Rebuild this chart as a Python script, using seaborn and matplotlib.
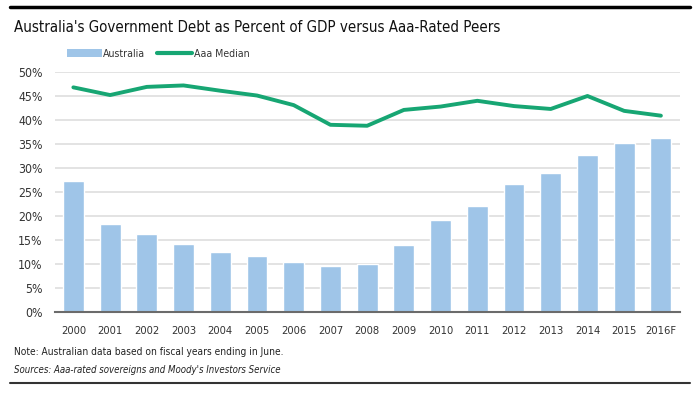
import matplotlib.pyplot as plt
import seaborn as sns
import pandas as pd
from matplotlib.lines import Line2D
from matplotlib.patches import Patch

years = ['2000', '2001', '2002', '2003', '2004', '2005', '2006', '2007', '2008',
         '2009', '2010', '2011', '2012', '2013', '2014', '2015', '2016F']
australia = [27.3, 18.3, 16.2, 14.2, 12.4, 11.7, 10.4, 9.6, 9.9,
             14.0, 19.1, 22.1, 26.6, 29.0, 32.7, 35.2, 36.2]
aaa_median = [46.8, 45.2, 46.9, 47.2, 46.1, 45.1, 43.1, 39.0, 38.8,
              42.1, 42.8, 44.0, 42.9, 42.3, 45.0, 41.9, 40.9]

df = pd.DataFrame({'Year': years, 'Australia': australia, 'Aaa Median': aaa_median})

sns.set_style('white')
plt.rcParams['font.family'] = ['DejaVu Sans']
plt.rcParams['font.stretch'] = 'condensed'

bar_color = '#9fc5e8'
line_color = '#17a673'

fig = plt.figure(figsize=(7, 3.94), dpi=100)
ax = fig.add_axes([55 / 700, 1 - 312 / 394, 625 / 700, 240 / 394])

sns.barplot(data=df, x='Year', y='Australia', color=bar_color, width=0.57,
            saturation=1, ax=ax, zorder=2)
sns.lineplot(data=df, x='Year', y='Aaa Median', color=line_color, linewidth=2.8,
             sort=False, ax=ax, zorder=3)

ax.set_ylim(0, 50)
ax.set_xlim(-0.5, len(years) - 0.48)
ax.set_yticks(range(0, 51, 5))
ax.set_yticklabels([f'{v}%' for v in range(0, 51, 5)])
ax.yaxis.grid(True, color='#dedede', linewidth=1.2, zorder=0)
ax.set_axisbelow(True)
ax.set_xlabel('')
ax.set_ylabel('')
for s in ['top', 'right', 'left']:
    ax.spines[s].set_visible(False)
ax.spines['bottom'].set_color('#6b6b6b')
ax.spines['bottom'].set_linewidth(1.5)
ax.tick_params(axis='both', length=0, colors='#333333')
ax.tick_params(axis='x', pad=10, labelsize=8)
ax.tick_params(axis='y', pad=9, labelsize=8.8)

handles = [Patch(facecolor=bar_color, edgecolor='none'),
           Line2D([0], [0], color=line_color, linewidth=3)]
fig.legend(handles, ['Australia', 'Aaa Median'], loc='center left',
           bbox_to_anchor=(67 / 700, 1 - 54 / 394), ncol=2, frameon=False,
           fontsize=7.6, handlelength=3.3, handleheight=0.75, columnspacing=1.1,
           handletextpad=0.15, borderpad=0, borderaxespad=0, labelcolor='#333333')

fig.text(14 / 700, 1 - 27 / 394, "Australia's Government Debt as Percent of GDP versus Aaa-Rated Peers",
         fontsize=10.8, va='center', ha='left', color='#111111')
fig.text(14 / 700, 1 - 352 / 394, 'Note: Australian data based on fiscal years ending in June.',
         fontsize=7.3, va='center', ha='left', color='#222222')
fig.text(14 / 700, 1 - 370 / 394, "Sources: Aaa-rated sovereigns and Moody's Investors Service",
         fontsize=6.9, va='center', ha='left', style='italic', color='#222222')

fig.add_artist(Line2D([10 / 700, 690 / 700], [1 - 7 / 394, 1 - 7 / 394], color='black', linewidth=2.5))
fig.add_artist(Line2D([10 / 700, 690 / 700], [1 - 383 / 394, 1 - 383 / 394], color='#333333', linewidth=1.5))

fig.savefig('out.png', dpi=100)
